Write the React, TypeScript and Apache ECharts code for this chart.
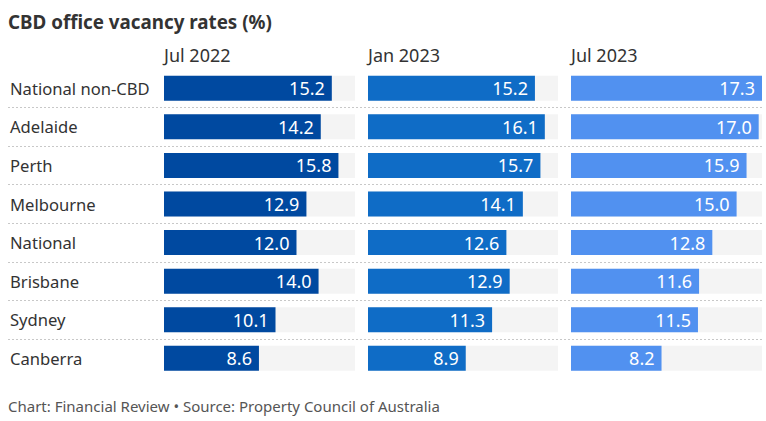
import React, { useEffect, useRef } from "react";
import * as echarts from "echarts";

const categories = ["National non-CBD", "Adelaide", "Perth", "Melbourne", "National", "Brisbane", "Sydney", "Canberra"];
const periods = ["Jul 2022", "Jan 2023", "Jul 2023"];
const jul2022 = [15.2, 14.2, 15.8, 12.9, 12.0, 14.0, 10.1, 8.6];
const jan2023 = [15.2, 16.1, 15.7, 14.1, 12.6, 12.9, 11.3, 8.9];
const jul2023 = [17.3, 17.0, 15.9, 15.0, 12.8, 11.6, 11.5, 8.2];
const seriesValues = [jul2022, jan2023, jul2023];
const colors = ["#0049a0", "#0f6cc6", "#5191f0"];
const titleText = "CBD office vacancy rates (%)";
const footerText = "Chart: Financial Review \u2022 Source: Property Council of Australia";

const FONT = "Noto Sans";
const GRID_TOP = 69;
const GRID_H = 308.6;
const panelLefts = [164, 368, 571];
const panelWidths = [191, 190, 191];
const maxVal = Math.max(...jul2022, ...jan2023, ...jul2023);

export default function App() {
  const ref = useRef<HTMLDivElement>(null);
  useEffect(() => {
    if (!ref.current) return;
    const chart = echarts.init(ref.current, undefined, { renderer: "svg" });
    const grids: any[] = [{ left: 8, width: 754, top: GRID_TOP, height: GRID_H }];
    const xAxes: any[] = [{ type: "value", gridIndex: 0, show: false, min: 0, max: maxVal }];
    const yAxes: any[] = [
      {
        type: "category",
        gridIndex: 0,
        data: categories,
        inverse: true,
        axisLine: { show: false },
        axisTick: { show: false },
        axisLabel: { inside: true, margin: 2, color: "#333", fontSize: 16.6, fontFamily: FONT },
        splitLine: {
          show: true,
          showMinLine: false,
          showMaxLine: false,
          lineStyle: { color: "#c8c8c8", type: [2, 2], width: 1 },
        },
      },
    ];
    const series: any[] = [];
    const titles: any[] = [
      {
        text: titleText,
        left: 8,
        top: 12,
        padding: 0,
        textStyle: { fontSize: 18.8, fontWeight: "bold", color: "#333", fontFamily: FONT },
      },
    ];
    periods.forEach((p, i) => {
      const gi = i + 1;
      grids.push({ left: panelLefts[i], width: panelWidths[i], top: GRID_TOP, height: GRID_H });
      xAxes.push({ type: "value", gridIndex: gi, show: false, min: 0, max: maxVal });
      yAxes.push({ type: "category", gridIndex: gi, data: categories, inverse: true, show: false });
      series.push({
        type: "bar",
        name: p,
        xAxisIndex: gi,
        yAxisIndex: gi,
        data: seriesValues[i],
        barWidth: 25,
        itemStyle: { color: colors[i] },
        showBackground: true,
        backgroundStyle: { color: "#f4f4f4" },
        label: {
          show: true,
          position: "insideRight",
          distance: 7,
          color: "#fff",
          fontSize: 18,
          fontFamily: FONT,
          formatter: (d: any) => Number(d.value).toFixed(1),
        },
      });
      titles.push({
        text: p,
        left: panelLefts[i],
        top: 46,
        padding: 0,
        textStyle: { fontSize: 18, fontWeight: "normal", color: "#333", fontFamily: FONT },
      });
    });
    titles.push({
      text: footerText,
      left: 8,
      top: 398,
      padding: 0,
      textStyle: { fontSize: 15, fontWeight: "normal", color: "#555", fontFamily: FONT },
    });
    chart.setOption({
      animation: false,
      backgroundColor: "#fff",
      title: titles,
      grid: grids,
      xAxis: xAxes,
      yAxis: yAxes,
      series,
    });
    return () => chart.dispose();
  }, []);
  return <div ref={ref} style={{ position: "absolute", left: 0, top: 0, width: 766, height: 421 }} />;
}
